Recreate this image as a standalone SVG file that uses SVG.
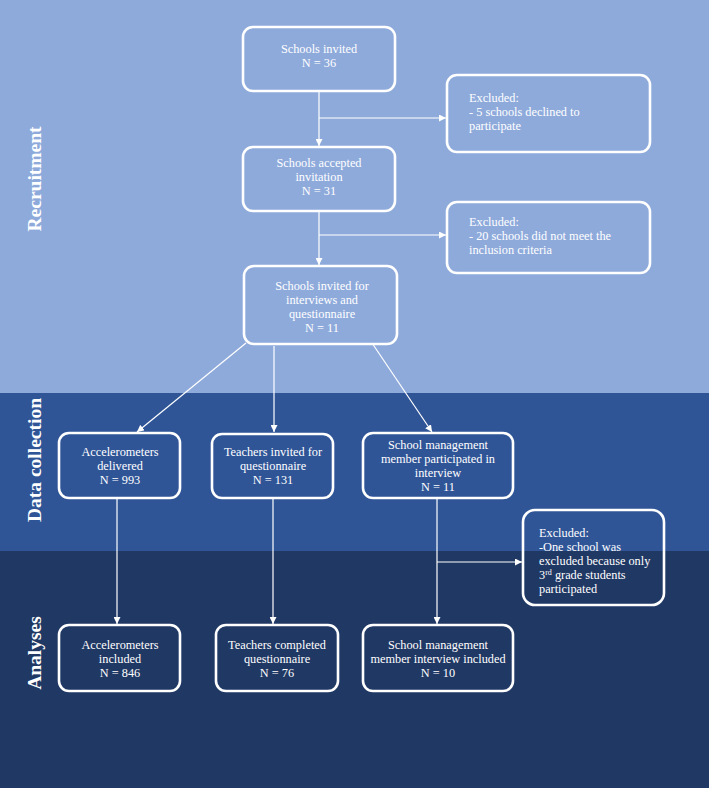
<svg xmlns="http://www.w3.org/2000/svg" width="709" height="788" viewBox="0 0 709 788">
<style>
.box{fill:none;stroke:#fff;stroke-width:2.6}
.t{font-family:"Liberation Serif","Times New Roman",serif;font-size:12.3px;fill:#fff}
.c{text-anchor:middle}
.side{font-family:"Liberation Serif","Times New Roman",serif;font-size:19.5px;font-weight:bold;fill:#fff;text-anchor:middle}
.ln{stroke:#fff;stroke-width:1.2;fill:none}
</style>
<defs>
<marker id="ah" viewBox="0 0 10 10" refX="10" refY="5" markerWidth="7" markerHeight="7" markerUnits="userSpaceOnUse" orient="auto">
<path d="M0,0 L10,5 L0,10 z" fill="#fff"/>
</marker>
</defs>
<g id="bands">
<rect x="0" y="0" width="709" height="393" fill="#8eaadb"/>
<rect x="0" y="393" width="709" height="158" fill="#2f5597"/>
<rect x="0" y="551" width="709" height="237" fill="#203864"/>
<text class="side" transform="translate(41,179) rotate(-90)">Recruitment</text>
<text class="side" transform="translate(41,460) rotate(-90)">Data collection</text>
<text class="side" transform="translate(41,653) rotate(-90)">Analyses</text>
</g>
<g id="connectors">
<line class="ln" x1="319" y1="92" x2="319" y2="146" marker-end="url(#ah)"/>
<line class="ln" x1="319" y1="118" x2="446" y2="118" marker-end="url(#ah)"/>
<line class="ln" x1="319" y1="212" x2="319" y2="265" marker-end="url(#ah)"/>
<line class="ln" x1="319" y1="235" x2="446" y2="235" marker-end="url(#ah)"/>
<line class="ln" x1="246" y1="343" x2="137" y2="432" marker-end="url(#ah)"/>
<line class="ln" x1="274" y1="346" x2="274" y2="432" marker-end="url(#ah)"/>
<line class="ln" x1="372" y1="343" x2="432" y2="432" marker-end="url(#ah)"/>
<line class="ln" x1="117" y1="499" x2="117" y2="624" marker-end="url(#ah)"/>
<line class="ln" x1="273" y1="499" x2="273" y2="624" marker-end="url(#ah)"/>
<line class="ln" x1="437" y1="499" x2="437" y2="624" marker-end="url(#ah)"/>
<line class="ln" x1="437" y1="562" x2="522" y2="562" marker-end="url(#ah)"/>
</g>
<g id="n1">
<rect class="box" x="243" y="27" width="152" height="64" rx="10"/>
<text class="t c" x="319" y="53">Schools invited</text>
<text class="t c" x="319" y="67">N = 36</text>
</g>
<g id="ex1">
<rect class="box" x="447" y="75" width="203" height="77" rx="10"/>
<text class="t" x="469" y="102">Excluded:</text>
<text class="t" x="469" y="116">- 5 schools declined to</text>
<text class="t" x="469" y="130">participate</text>
</g>
<g id="n2">
<rect class="box" x="243" y="147" width="152" height="64" rx="10"/>
<text class="t c" x="319" y="167">Schools accepted</text>
<text class="t c" x="319" y="181">invitation</text>
<text class="t c" x="319" y="195">N = 31</text>
</g>
<g id="ex2">
<rect class="box" x="447" y="202" width="203" height="71" rx="10"/>
<text class="t" x="469" y="226">Excluded:</text>
<text class="t" x="469" y="240">- 20 schools did not meet the</text>
<text class="t" x="469" y="254">inclusion criteria</text>
</g>
<g id="n3">
<rect class="box" x="244" y="266" width="153" height="78" rx="10"/>
<text class="t c" x="322" y="290">Schools invited for</text>
<text class="t c" x="322" y="304">interviews and</text>
<text class="t c" x="322" y="318">questionnaire</text>
<text class="t c" x="322" y="332">N = 11</text>
</g>
<g id="d1">
<rect class="box" x="59" y="433" width="121" height="65" rx="10"/>
<text class="t c" x="120" y="456">Accelerometers</text>
<text class="t c" x="120" y="470">delivered</text>
<text class="t c" x="120" y="484">N = 993</text>
</g>
<g id="d2">
<rect class="box" x="212" y="434" width="121" height="64" rx="10"/>
<text class="t c" x="273" y="456">Teachers invited for</text>
<text class="t c" x="273" y="470">questionnaire</text>
<text class="t c" x="273" y="484">N = 131</text>
</g>
<g id="d3">
<rect class="box" x="363" y="433" width="150" height="65" rx="10"/>
<text class="t c" x="438" y="449">School management</text>
<text class="t c" x="438" y="463">member participated in</text>
<text class="t c" x="438" y="477">interview</text>
<text class="t c" x="438" y="491">N = 11</text>
</g>
<g id="ex3">
<rect class="box" x="523" y="510" width="141" height="95" rx="12"/>
<text class="t" x="539" y="537">Excluded:</text>
<text class="t" x="539" y="551">-One school was</text>
<text class="t" x="539" y="565">excluded because only</text>
<text class="t" x="539" y="579">3<tspan font-size="8" dy="-4">rd</tspan><tspan dy="4"> grade students</tspan></text>
<text class="t" x="539" y="593">participated</text>
</g>
<g id="a1">
<rect class="box" x="59" y="625" width="121" height="66" rx="10"/>
<text class="t c" x="120" y="649">Accelerometers</text>
<text class="t c" x="120" y="663">included</text>
<text class="t c" x="120" y="677">N = 846</text>
</g>
<g id="a2">
<rect class="box" x="216" y="625" width="122" height="66" rx="10"/>
<text class="t c" x="277" y="649">Teachers completed</text>
<text class="t c" x="277" y="663">questionnaire</text>
<text class="t c" x="277" y="677">N = 76</text>
</g>
<g id="a3">
<rect class="box" x="363" y="625" width="150" height="66" rx="10"/>
<text class="t c" x="438" y="649">School management</text>
<text class="t c" x="438" y="663">member interview included</text>
<text class="t c" x="438" y="677">N = 10</text>
</g>
</svg>
